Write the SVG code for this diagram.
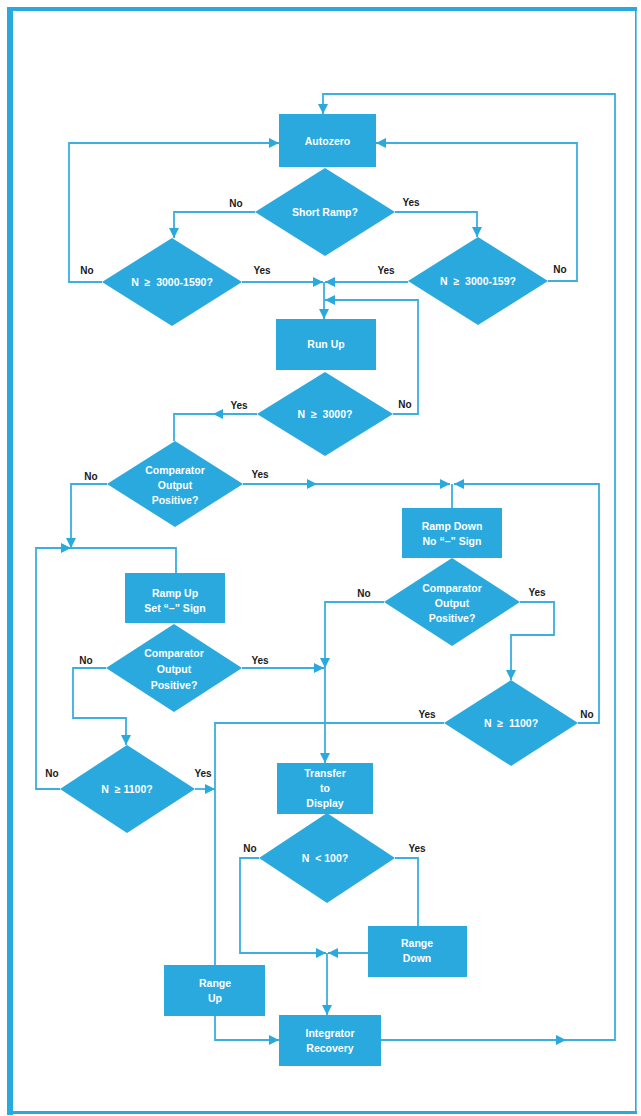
<svg xmlns="http://www.w3.org/2000/svg" width="641" height="1116" viewBox="0 0 641 1116">
<style>
.node{fill:#2aa9de}
.t{font-family:"Liberation Sans",Arial,sans-serif;font-size:10.5px;font-weight:bold;fill:#ffffff;text-anchor:middle}
.lb{font-family:"Liberation Sans",Arial,sans-serif;font-size:10px;font-weight:bold;fill:#1a1a1a;text-anchor:middle}
.c{fill:none;stroke:#3aafe0;stroke-width:1.8}
.frame{fill:#2aa9de}
</style>
<defs>
<marker id="a" markerUnits="userSpaceOnUse" markerWidth="11" markerHeight="10" refX="10" refY="5" orient="auto">
<path d="M0,0 L10,5 L0,10 z" fill="#2aa9de"/>
</marker>
</defs>
<rect width="641" height="1116" fill="#ffffff"/>
<g id="frame">
<rect class="frame" x="7" y="7" width="6" height="1108"/>
<rect class="frame" x="7" y="7" width="630" height="4"/>
<rect class="frame" x="7" y="1111" width="630" height="3"/>
<rect class="frame" x="635" y="7" width="1.6" height="1107"/>
</g>
<g id="connectors">
<path class="c" d="M381,1040 L566,1040" marker-end="url(#a)"/>
<path class="c" d="M566,1040 L615,1040 L615,94 L323,94 L323,114" marker-end="url(#a)"/>
<path class="c" d="M102,282 L69,282 L69,143 L279,143" marker-end="url(#a)"/>
<path class="c" d="M548,281 L577,281 L577,143 L376,143" marker-end="url(#a)"/>
<path class="c" d="M255,212 L174,212 L174,238" marker-end="url(#a)"/>
<path class="c" d="M395,212 L477,212 L477,237" marker-end="url(#a)"/>
<path class="c" d="M242,282 L323,282" marker-end="url(#a)"/>
<path class="c" d="M408,282 L325,282" marker-end="url(#a)"/>
<path class="c" d="M324,282 L324,319" marker-end="url(#a)"/>
<path class="c" d="M393,414 L418,414 L418,300 L325,300" marker-end="url(#a)"/>
<path class="c" d="M257,414 L213,414" marker-end="url(#a)"/>
<path class="c" d="M213,414 L174,414 L174,441"/>
<path class="c" d="M107,484 L71,484 L71,548" marker-end="url(#a)"/>
<path class="c" d="M60,789 L36,789 L36,548 L71,548" marker-end="url(#a)"/>
<path class="c" d="M71,548 L176,548 L176,573"/>
<path class="c" d="M243,484 L317,484" marker-end="url(#a)"/>
<path class="c" d="M317,484 L450,484" marker-end="url(#a)"/>
<path class="c" d="M578,723 L599,723 L599,484 L454,484" marker-end="url(#a)"/>
<path class="c" d="M452,484 L452,508"/>
<path class="c" d="M384,602 L325,602 L325,668" marker-end="url(#a)"/>
<path class="c" d="M325,668 L325,763" marker-end="url(#a)"/>
<path class="c" d="M242,668 L324,668" marker-end="url(#a)"/>
<path class="c" d="M520,602 L554,602 L554,635 L511,635 L511,680" marker-end="url(#a)"/>
<path class="c" d="M106,668 L73,668 L73,718 L126,718 L126,745" marker-end="url(#a)"/>
<path class="c" d="M444,723 L215,723 L215,965"/>
<path class="c" d="M195,789 L215,789" marker-end="url(#a)"/>
<path class="c" d="M259,858 L240,858 L240,953 L326,953" marker-end="url(#a)"/>
<path class="c" d="M395,858 L418,858 L418,926"/>
<path class="c" d="M368,953 L328,953" marker-end="url(#a)"/>
<path class="c" d="M327,953 L327,1015" marker-end="url(#a)"/>
<path class="c" d="M215,1016 L215,1040 L279,1040" marker-end="url(#a)"/>
</g>
<g id="autozero">
<rect class="node" x="279" y="114" width="97" height="53"/>
<text class="t" x="327.5" y="145">Autozero</text>
</g>
<g id="short-ramp">
<polygon class="node" points="325,168 395,212 325,256 255,212"/>
<text class="t" x="325" y="216">Short Ramp?</text>
</g>
<g id="n-3000-1590">
<polygon class="node" points="172,238 242,282 172,326 102,282"/>
<text class="t" x="172" y="286">N&#160;&#160;≥&#160;&#160;3000-1590?</text>
</g>
<g id="n-3000-159">
<polygon class="node" points="478,237 548,281 478,325 408,281"/>
<text class="t" x="478" y="285">N&#160;&#160;≥&#160;&#160;3000-159?</text>
</g>
<g id="run-up">
<rect class="node" x="276" y="319" width="100" height="51"/>
<text class="t" x="326" y="348">Run Up</text>
</g>
<g id="n-3000">
<polygon class="node" points="325,372 393,414 325,456 257,414"/>
<text class="t" x="325" y="418">N&#160;&#160;≥&#160;&#160;3000?</text>
</g>
<g id="comparator-1">
<polygon class="node" points="175,441 243,484 175,527 107,484"/>
<text class="t" x="175" y="474">Comparator</text>
<text class="t" x="175" y="489">Output</text>
<text class="t" x="175" y="504">Positive?</text>
</g>
<g id="ramp-down">
<rect class="node" x="402" y="508" width="100" height="50"/>
<text class="t" x="452" y="530">Ramp Down</text>
<text class="t" x="452" y="545">No “–” Sign</text>
</g>
<g id="comparator-2">
<polygon class="node" points="452,558 520,602 452,646 384,602"/>
<text class="t" x="452" y="592">Comparator</text>
<text class="t" x="452" y="607">Output</text>
<text class="t" x="452" y="622">Positive?</text>
</g>
<g id="ramp-up">
<rect class="node" x="125" y="573" width="100" height="50"/>
<text class="t" x="175" y="597">Ramp Up</text>
<text class="t" x="175" y="612">Set “–” Sign</text>
</g>
<g id="comparator-3">
<polygon class="node" points="174,624 242,668 174,712 106,668"/>
<text class="t" x="174" y="657">Comparator</text>
<text class="t" x="174" y="673">Output</text>
<text class="t" x="174" y="689">Positive?</text>
</g>
<g id="n-1100-right">
<polygon class="node" points="511,680 578,723 511,766 444,723"/>
<text class="t" x="511" y="727">N&#160;&#160;≥&#160;&#160;1100?</text>
</g>
<g id="n-1100-left">
<polygon class="node" points="127,745 195,789 127,833 60,789"/>
<text class="t" x="127" y="793">N&#160;&#160;≥&#160;1100?</text>
</g>
<g id="transfer">
<rect class="node" x="277" y="763" width="96" height="51"/>
<text class="t" x="325" y="777">Transfer</text>
<text class="t" x="325" y="792">to</text>
<text class="t" x="325" y="807">Display</text>
</g>
<g id="n-100">
<polygon class="node" points="327,813 395,858 327,903 259,858"/>
<text class="t" x="325" y="862">N&#160;&#160;&lt;&#160;100?</text>
</g>
<g id="range-down">
<rect class="node" x="368" y="926" width="99" height="51"/>
<text class="t" x="417" y="947">Range</text>
<text class="t" x="417" y="962">Down</text>
</g>
<g id="range-up">
<rect class="node" x="164" y="965" width="101" height="51"/>
<text class="t" x="215" y="987">Range</text>
<text class="t" x="215" y="1002">Up</text>
</g>
<g id="integrator-recovery">
<rect class="node" x="279" y="1015" width="102" height="51"/>
<text class="t" x="330" y="1037">Integrator</text>
<text class="t" x="330" y="1052">Recovery</text>
</g>
<g id="labels">
<text class="lb" x="236" y="207">No</text>
<text class="lb" x="411" y="206">Yes</text>
<text class="lb" x="87" y="274">No</text>
<text class="lb" x="262" y="274">Yes</text>
<text class="lb" x="386" y="274">Yes</text>
<text class="lb" x="560" y="273">No</text>
<text class="lb" x="239" y="409">Yes</text>
<text class="lb" x="405" y="408">No</text>
<text class="lb" x="91" y="480">No</text>
<text class="lb" x="260" y="478">Yes</text>
<text class="lb" x="364" y="597">No</text>
<text class="lb" x="537" y="596">Yes</text>
<text class="lb" x="86" y="664">No</text>
<text class="lb" x="260" y="664">Yes</text>
<text class="lb" x="427" y="718">Yes</text>
<text class="lb" x="587" y="718">No</text>
<text class="lb" x="52" y="777">No</text>
<text class="lb" x="203" y="777">Yes</text>
<text class="lb" x="250" y="852">No</text>
<text class="lb" x="417" y="852">Yes</text>
</g>
</svg>
